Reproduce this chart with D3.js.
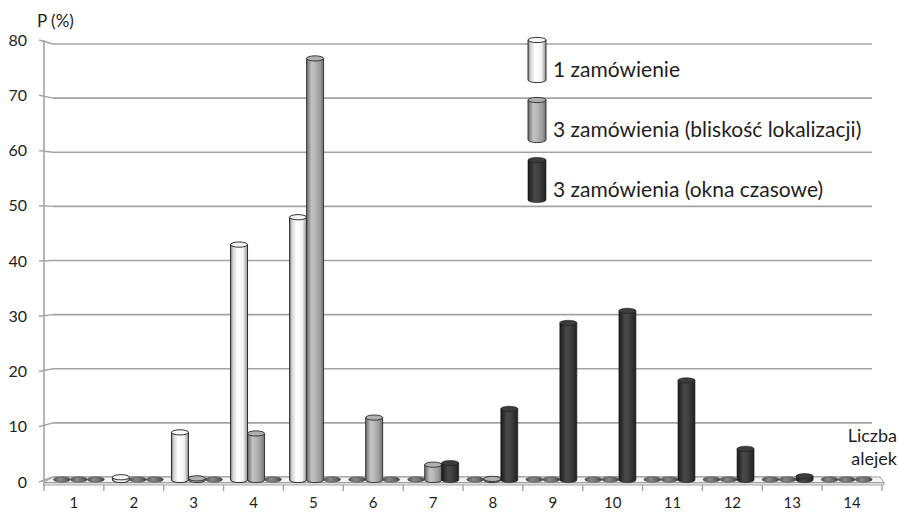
<!DOCTYPE html>
<html>
<head>
<meta charset="utf-8">
<script src="https://cdn.jsdelivr.net/npm/d3@7"></script>
<style>
  html, body { margin: 0; padding: 0; background: #fff; }
  svg { display: block; font-family: Lato, "Open Sans", sans-serif; }
</style>
</head>
<body>
<svg id="chart" width="899" height="512"></svg>
<script>
// Number of aisles visited (Liczba alejek) and probability per scenario
const categories = ["1","2","3","4","5","6","7","8","9","10","11","12","13","14"];
const seriesNames = [
  "1 zamówienie",
  "3 zamówienia (bliskość lokalizacji)",
  "3 zamówienia (okna czasowe)"
];
const oneOrder      = [0, 0.5, 8.7, 43, 48, 0, 0, 0, 0, 0, 0, 0, 0, 0];
const threeNearby   = [0, 0, 0.3, 8.5, 77, 11.4, 2.8, 0.2, 0, 0, 0, 0, 0, 0];
const threeWindows  = [0, 0, 0, 0, 0, 0, 3.1, 13, 28.7, 30.9, 18.2, 5.7, 0.7, 0];
const yTicks = [0, 10, 20, 30, 40, 50, 60, 70, 80];
const yTitle = "P (%)";
const xTitle = ["Liczba", "alejek"];

const svg = d3.select("#chart");
const defs = svg.append("defs");
const TEXT = "#1e1e1e";

// Scales: front axis, back wall (gridlines) and mid depth (bars)
const yFront = d3.scaleLinear().domain([0, 80]).range([482, 40]);
const yBack  = d3.scaleLinear().domain([0, 80]).range([477, 44]);
const yBar   = d3.scaleLinear().domain([0, 80]).range([480, 42]);
const xAxisBand = d3.scaleBand().domain(categories).range([44, 882]).padding(0);
const xBarBand  = d3.scaleBand().domain(categories).range([49.3, 876.2]).padding(0);
const xSeries   = d3.scaleBand().domain(d3.range(3)).range([0, 51]).padding(0);

// Cylinder shading
const styles = [
  { id: "gWhite", stops: [[0,"#7e7e7e"],[0.14,"#d4d4d4"],[0.4,"#ffffff"],[0.75,"#f2f2f2"],[1,"#8e8e8e"]],
    top: "#f6f6f6", stroke: "#1e1e1e", sw: 0.9 },
  { id: "gGray", stops: [[0,"#6a6a6a"],[0.3,"#c4c4c4"],[0.5,"#b8b8b8"],[0.8,"#9a9a9a"],[1,"#6e6e6e"]],
    top: "#b0b0b0", stroke: "#2a2a2a", sw: 0.9 },
  { id: "gDark", stops: [[0,"#1a1a1a"],[0.35,"#484848"],[0.55,"#444"],[1,"#222"]],
    top: "#3c3c3c", stroke: "#1a1a1a", sw: 0.6 }
];
styles.forEach(s => {
  const g = defs.append("linearGradient").attr("id", s.id)
    .attr("x1", "0%").attr("x2", "100%").attr("y1", "0%").attr("y2", "0%");
  s.stops.forEach(([o, c]) => g.append("stop").attr("offset", o).attr("stop-color", c));
});
// flat disks drawn for empty values
const diskGrad = defs.append("linearGradient").attr("id", "gDisk")
  .attr("x1", "0%").attr("x2", "100%");
[[0,"#555"],[0.4,"#8a8a8a"],[0.7,"#6a6a6a"],[1,"#444"]]
  .forEach(([o, c]) => diskGrad.append("stop").attr("offset", o).attr("stop-color", c));

// Y axis: gridlines on the back wall, slanted side ticks, front axis line
const grid = svg.append("g");
yTicks.forEach(v => {
  grid.append("line")
    .attr("x1", 53).attr("x2", 872)
    .attr("y1", yBack(v)).attr("y2", yBack(v))
    .attr("stroke", "#a3a3a3").attr("stroke-width", 1.6);
  grid.append("line")
    .attr("x1", 39).attr("x2", 53)
    .attr("y1", yFront(v)).attr("y2", yBack(v))
    .attr("stroke", "#a3a3a3").attr("stroke-width", 1.4);
  grid.append("text")
    .attr("x", 27).attr("y", yFront(v))
    .attr("dy", "0.35em").attr("text-anchor", "end")
    .attr("font-size", 16).attr("fill", TEXT)
    .text(v);
});
svg.append("line")
  .attr("x1", 44).attr("x2", 44).attr("y1", yFront(80)).attr("y2", 486)
  .attr("stroke", "#a3a3a3").attr("stroke-width", 1.6);

svg.append("text")
  .attr("x", 37).attr("y", 27)
  .attr("font-size", 17).attr("fill", TEXT)
  .text(yTitle);

// Floor slab
const floor = svg.append("g");
floor.append("path")
  .attr("d", `M44,482.5 L53,477 L880,477 L884,482.5 Z`)
  .attr("fill", "#f4f4f4").attr("stroke", "#9a9a9a").attr("stroke-width", 1);
floor.append("path")
  .attr("d", `M44,482.5 L884,482.5 L884,485 L44,485 Z`)
  .attr("fill", "#dcdcdc").attr("stroke", "#9a9a9a").attr("stroke-width", 0.8);

// Category ticks and labels
const xa = svg.append("g");
categories.concat(["end"]).forEach((c, i) => {
  const x = i < categories.length ? xAxisBand(c) : xAxisBand.range()[1];
  xa.append("line")
    .attr("x1", x).attr("x2", x).attr("y1", 485).attr("y2", 491)
    .attr("stroke", "#a3a3a3").attr("stroke-width", 1.4);
});
categories.forEach(c => {
  xa.append("text")
    .attr("x", xAxisBand(c) + xAxisBand.bandwidth() / 2)
    .attr("y", 508)
    .attr("text-anchor", "middle")
    .attr("font-size", 15).attr("fill", TEXT)
    .text(c);
});

xa.selectAll("text.xt").data(xTitle).join("text")
  .attr("class", "xt")
  .attr("x", 897).attr("y", (d, i) => 442 + i * 23)
  .attr("text-anchor", "end")
  .attr("font-size", 18).attr("fill", TEXT)
  .text(d => d);

// Cylinder path: body with rounded bottom, separate top ellipse
const RY = 2.6;
function drawCylinder(g, x0, w, yTop, yBase, s) {
  const rx = w / 2;
  g.append("path")
    .attr("d", `M${x0},${yTop} L${x0},${yBase} A${rx},${RY} 0 0 0 ${x0 + w},${yBase} L${x0 + w},${yTop} Z`)
    .attr("fill", `url(#${s.id})`)
    .attr("stroke", s.stroke).attr("stroke-width", s.sw);
  g.append("ellipse")
    .attr("cx", x0 + rx).attr("cy", yTop).attr("rx", rx).attr("ry", RY)
    .attr("fill", s.top).attr("stroke", s.stroke).attr("stroke-width", s.sw);
}
function drawDisk(g, x0, w, yBase) {
  g.append("ellipse")
    .attr("cx", x0 + w / 2).attr("cy", yBase - 0.5).attr("rx", w / 2).attr("ry", RY)
    .attr("fill", "url(#gDisk)").attr("stroke", "#3a3a3a").attr("stroke-width", 0.6);
}

const seriesData = [oneOrder, threeNearby, threeWindows];
const bars = svg.append("g");
categories.forEach((c, ci) => {
  seriesData.forEach((vals, si) => {
    const x0 = xBarBand(c) + (xBarBand.bandwidth() - 51) / 2 + xSeries(si);
    const v = vals[ci];
    if (v === 0) {
      drawDisk(bars, x0, xSeries.bandwidth(), yBar(0));
    } else {
      const yTop = Math.min(yBar(v), yBar(0) - 0.8);
      drawCylinder(bars, x0, xSeries.bandwidth(), yTop, yBar(0), styles[si]);
    }
  });
});

// Legend
const legend = svg.append("g");
const legendTops = [37, 97, 157];
seriesNames.forEach((name, i) => {
  drawCylinder(legend, 528, 18, legendTops[i] + 3, legendTops[i] + 43, styles[i]);
  legend.append("text")
    .attr("x", 553).attr("y", legendTops[i] + 40)
    .attr("font-size", 21).attr("fill", TEXT)
    .text(name);
});
</script>
</body>
</html>
